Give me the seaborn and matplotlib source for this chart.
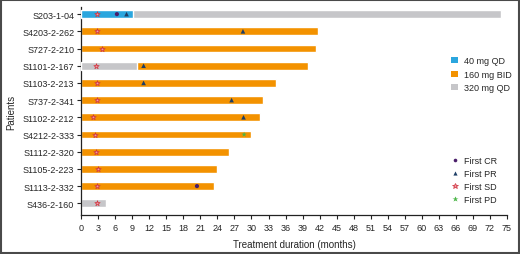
import numpy as np
import pandas as pd
import matplotlib
matplotlib.use("Agg")
import matplotlib.pyplot as plt
from matplotlib.patches import Patch, Rectangle
from matplotlib.lines import Line2D
import seaborn as sns

patients = ["S203-1-04", "S4203-2-262", "S727-2-210", "S1101-2-167", "S1103-2-213",
            "S737-2-341", "S1102-2-212", "S4212-2-333", "S1112-2-320", "S1105-2-223",
            "S1113-2-332", "S436-2-160"]
# first dose segment
seg1_dose = ["40 mg QD", "160 mg BID", "160 mg BID", "320 mg QD", "160 mg BID",
             "160 mg BID", "160 mg BID", "160 mg BID", "160 mg BID", "160 mg BID",
             "160 mg BID", "320 mg QD"]
seg1_end = [9.2, 41.7, 41.3, 9.9, 34.3, 32.0, 31.5, 29.9, 26.0, 24.0, 23.4, 4.3]
# second dose segment (None = no switch)
seg2_dose = ["320 mg QD", None, None, "160 mg BID", None, None, None, None, None, None, None, None]
seg2_end = [73.9, None, None, 40.0, None, None, None, None, None, None, None, None]

first_cr = {"S203-1-04": 6.3, "S1113-2-332": 20.4}
first_pr = {"S203-1-04": 8.0, "S4203-2-262": 28.5, "S1101-2-167": 11.0, "S1103-2-213": 11.0,
            "S737-2-341": 26.5, "S1102-2-212": 28.6}
first_sd = {"S203-1-04": 2.8, "S4203-2-262": 2.8, "S727-2-210": 3.6, "S1101-2-167": 2.7,
            "S1103-2-213": 2.8, "S737-2-341": 2.8, "S1102-2-212": 2.1, "S4212-2-333": 2.4,
            "S1112-2-320": 2.7, "S1105-2-223": 2.9, "S1113-2-332": 2.8, "S436-2-160": 2.8}
first_pd = {"S4212-2-333": 28.7}

dose_colors = {"40 mg QD": "#2BA6DE", "160 mg BID": "#F39200", "320 mg QD": "#C6C6C9"}
SD_EDGE = "#D0303A"
SD_FACE = "#EE9AA8"

sns.set_style("white")
plt.rcParams["font.family"] = ["Liberation Sans", "DejaVu Sans"]

fig = plt.figure(figsize=(5.2, 2.55), dpi=100)
ax = fig.add_axes([0.156, 0.153, 0.819, 0.816])

# full-length layer (colored by the last dose)
full = pd.DataFrame({
    "patient": patients,
    "end": [e2 if e2 is not None else e1 for e1, e2 in zip(seg1_end, seg2_end)],
    "dose": [d2 if d2 is not None else d1 for d1, d2 in zip(seg1_dose, seg2_dose)],
})
sns.barplot(data=full, x="end", y="patient", hue="dose", order=patients,
            palette=dose_colors, dodge=False, orient="h", width=0.45,
            saturation=1, legend=False, ax=ax, zorder=2)
# first segment layer for patients who switched dose
first = pd.DataFrame({"patient": patients, "end": seg1_end, "dose": seg1_dose,
                      "switch": [d is not None for d in seg2_dose]})
first = first[first["switch"]]
sns.barplot(data=first, x="end", y="patient", hue="dose", order=patients,
            palette=dose_colors, dodge=False, orient="h", width=0.45,
            saturation=1, legend=False, ax=ax, zorder=3)

def ev_df(d):
    return pd.DataFrame({"t": list(d.values()), "y": [patients.index(p) for p in d.keys()]})

sns.scatterplot(data=ev_df(first_sd), x="t", y="y", marker="*", s=16, facecolor=SD_FACE,
                edgecolor=SD_EDGE, linewidth=0.5, ax=ax, zorder=5)
sns.scatterplot(data=ev_df(first_cr), x="t", y="y", marker="o", s=9, color="#4A1E6A",
                edgecolor="none", ax=ax, zorder=5)
sns.scatterplot(data=ev_df(first_pr), x="t", y="y", marker="^", s=11, color="#1E3E66",
                edgecolor="none", ax=ax, zorder=5)
sns.scatterplot(data=ev_df(first_pd), x="t", y="y", marker="*", s=16, color="#4CB648",
                edgecolor="none", ax=ax, zorder=5)

ax.set_xlim(0, 75)
ax.set_ylim(11.68, -0.42)
ax.set_xticks(np.arange(0, 76, 3))
ax.tick_params(axis="both", labelsize=6.5, length=3, width=0.8, color="#222222",
               direction="out", pad=2)
ax.tick_params(axis="x", pad=3)
ax.xaxis.set_ticks_position("bottom")
ax.yaxis.set_ticks_position("left")
for s in ["top", "right"]:
    ax.spines[s].set_visible(False)
for s in ["left", "bottom"]:
    ax.spines[s].set_color("#222222")
    ax.spines[s].set_linewidth(0.9)
ax.set_xlabel("Treatment duration (months)", fontsize=7, labelpad=5)
ax.set_ylabel("Patients", fontsize=7, labelpad=4)

h1 = [Patch(facecolor=dose_colors[k], edgecolor="none", label=k) for k in dose_colors]
leg1 = ax.legend(handles=h1, loc="upper left", bbox_to_anchor=(0.868, 0.775),
                 bbox_transform=fig.transFigure, frameon=False, fontsize=6.5,
                 handlelength=0.7, handleheight=0.7, handletextpad=0.7,
                 labelspacing=0.5, borderaxespad=0, borderpad=0)
ax.add_artist(leg1)
h2 = [Line2D([], [], ls="none", marker="o", ms=2.6, color="#4A1E6A", mec="none", label="First CR"),
      Line2D([], [], ls="none", marker="^", ms=3, color="#1E3E66", mec="none", label="First PR"),
      Line2D([], [], ls="none", marker="*", ms=3.8, mfc=SD_FACE, mec=SD_EDGE, mew=0.5, label="First SD"),
      Line2D([], [], ls="none", marker="*", ms=3.8, color="#4CB648", mec="none", label="First PD")]
ax.legend(handles=h2, loc="upper left", bbox_to_anchor=(0.868, 0.385),
          bbox_transform=fig.transFigure, frameon=False, fontsize=6.5,
          handlelength=0.7, handletextpad=0.7, labelspacing=0.45,
          borderaxespad=0, borderpad=0)

fig.patches.append(Rectangle((0.0015, 0.003), 0.997, 0.994, transform=fig.transFigure,
                             fill=False, edgecolor="#4a4a4a", linewidth=1.5))
fig.savefig("out.png", dpi=100)
